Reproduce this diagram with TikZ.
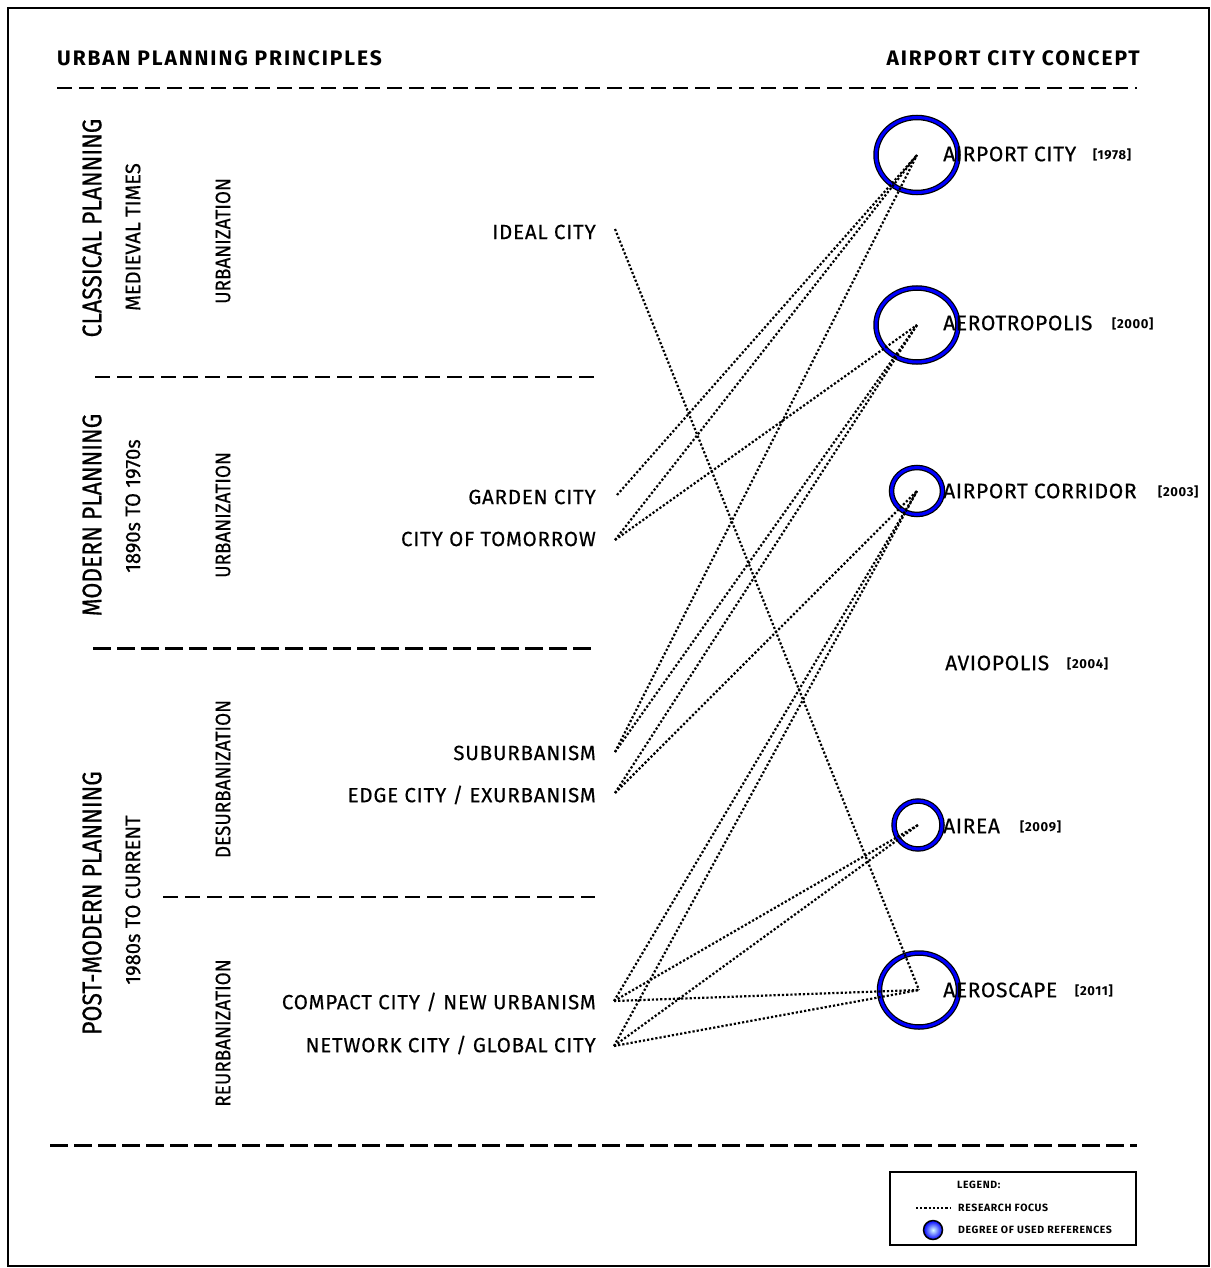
\documentclass[tikz,border=0pt]{standalone}
\usepackage{fontspec}
\setmainfont{Fira Sans}
\newfontfamily\itemfont[LetterSpace=4, FakeBold=0.4]{Fira Sans}
\newfontfamily\conceptfont[LetterSpace=3, FakeBold=0.4]{Fira Sans}
\newfontfamily\erafont[FakeStretch=0.85, FakeBold=0.5]{Fira Sans}
\newfontfamily\periodfont[FakeStretch=0.96, FakeBold=0.4]{Fira Sans}
\newfontfamily\phasefont[FakeStretch=0.9, FakeBold=0.3]{Fira Sans}
\newfontfamily\headfont[LetterSpace=9]{Fira Sans}
\newfontfamily\legfont[LetterSpace=6]{Fira Sans}
\newfontfamily\yearfont[LetterSpace=5]{Fira Sans}
\usetikzlibrary{shapes.geometric}
\begin{document}
\begin{tikzpicture}[x=1pt,y=-1pt,
  item/.style={anchor=east, font=\itemfont\fontsize{20.5}{24}\selectfont, inner sep=0pt},
  concept/.style={anchor=west, font=\conceptfont\fontsize{21}{25}\selectfont, inner sep=0pt},
  yearlbl/.style={anchor=west, font=\yearfont\bfseries\fontsize{13}{15}\selectfont, inner sep=0pt},
  header/.style={font=\headfont\bfseries\fontsize{21}{25}\selectfont, inner sep=0pt},
  era/.style={rotate=90, font=\erafont\fontsize{27}{30}\selectfont, inner sep=0pt},
  period/.style={rotate=90, font=\periodfont\fontsize{21}{24}\selectfont, inner sep=0pt},
  phase/.style={rotate=90, font=\phasefont\fontsize{21}{24}\selectfont, inner sep=0pt},
  septhin/.style={dash pattern=on 15pt off 7pt, line width=1.5pt},
  septhick/.style={dash pattern=on 18pt off 6pt, line width=3pt},
  link/.style={line width=2.2pt, dash pattern=on 2.2pt off 2pt, black},
  ring/.style={ellipse, draw=blue, line width=3pt, preaction={draw=black, line width=5.5pt}, inner sep=0pt, outer sep=0pt},
  legtext/.style={anchor=west, font=\legfont\bfseries\fontsize{10.5}{12}\selectfont, inner sep=0pt}
]
\useasboundingbox (0,0) rectangle (1210,1268);
% frame
\draw[line width=1.5pt] (8,8) rectangle (1209,1266);

% headers
\node[header, anchor=west] (h-left) at (57,58) {URBAN PLANNING PRINCIPLES};
\node[header, anchor=east] (h-right) at (1140,58) {AIRPORT CITY CONCEPT};

% separators
\draw[septhin] (57,88) -- (1137,88);
\draw[septhin] (95,377) -- (595,377);
\draw[septhick] (93,648) -- (595,648);
\draw[septhin] (163,897) -- (595,897);
\draw[septhick] (50,1145) -- (1137,1145);

% vertical labels
\node[era] (e1) at (92,228) {CLASSICAL PLANNING};
\node[era] (e2) at (92,515) {MODERN PLANNING};
\node[era] (e3) at (92,903) {POST-MODERN PLANNING};
\node[period] (p1) at (133,237) {MEDIEVAL TIMES};
\node[period] (p2) at (133,506) {1890s TO 1970s};
\node[period] (p3) at (133,900) {1980s TO CURRENT};
\node[phase] (f1) at (223,241) {URBANIZATION};
\node[phase] (f2) at (223,515) {URBANIZATION};
\node[phase] (f3) at (223,779) {DESURBANIZATION};
\node[phase] (f4) at (223,1033) {REURBANIZATION};

% left items
\node[item] (ideal) at (596,232) {IDEAL CITY};
\node[item] (garden) at (596,497) {GARDEN CITY};
\node[item] (tomorrow) at (596,539) {CITY OF TOMORROW};
\node[item] (suburb) at (596,753) {SUBURBANISM};
\node[item] (edge) at (596,795) {EDGE CITY / EXURBANISM};
\node[item] (compact) at (596,1002) {COMPACT CITY / NEW URBANISM};
\node[item] (network) at (596,1045) {NETWORK CITY / GLOBAL CITY};

% start points of the links
\coordinate (ideal-p) at (615,229);
\coordinate (garden-p) at (617,495);
\coordinate (tomorrow-p) at (615,540);
\coordinate (suburb-p) at (615,752);
\coordinate (edge-p) at (615,793);
\coordinate (compact-p) at (614,1001);
\coordinate (network-p) at (614,1046);

% rings
\node[ring, minimum width=82pt, minimum height=75pt] (acity) at (917,155) {};
\node[ring, minimum width=82pt, minimum height=74pt] (aero) at (917,325) {};
\node[ring, minimum width=51pt, minimum height=47pt] (corr) at (917,491) {};
\node[ring, minimum width=48pt, minimum height=48pt] (airea) at (918,825) {};
\node[ring, minimum width=79pt, minimum height=74pt] (ascape) at (919,990) {};

% concept labels
\node[concept] (l-acity) at (943,154) {AIRPORT CITY};
\node[yearlbl] (y-acity) at (1093,155) {[1978]};
\node[concept] (l-aero) at (943,323) {AEROTROPOLIS};
\node[yearlbl] (y-aero) at (1112,324) {[2000]};
\node[concept] (l-corr) at (943,491) {AIRPORT CORRIDOR};
\node[yearlbl] (y-corr) at (1158,492) {[2003]};
\node[concept] (l-avio) at (945,663) {AVIOPOLIS};
\node[yearlbl] (y-avio) at (1067,664) {[2004]};
\node[concept] (l-airea) at (943,826) {AIREA};
\node[yearlbl] (y-airea) at (1020,827) {[2009]};
\node[concept] (l-ascape) at (943,990) {AEROSCAPE};
\node[yearlbl] (y-ascape) at (1075,991) {[2011]};

% links
\draw[link] (ideal-p) -- (ascape.center);
\draw[link] (garden-p) -- (acity.center);
\draw[link] (tomorrow-p) -- (acity.center);
\draw[link] (tomorrow-p) -- (aero.center);
\draw[link] (suburb-p) -- (acity.center);
\draw[link] (suburb-p) -- (aero.center);
\draw[link] (edge-p) -- (aero.center);
\draw[link] (edge-p) -- (corr.center);
\draw[link] (compact-p) -- (corr.center);
\draw[link] (compact-p) -- (airea.center);
\draw[link] (compact-p) -- (ascape.center);
\draw[link] (network-p) -- (corr.center);
\draw[link] (network-p) -- (airea.center);
\draw[link] (network-p) -- (ascape.center);

% legend
\node[draw, line width=1.8pt, minimum width=246pt, minimum height=73pt, inner sep=0pt] (legend) at (1013,1208.5) {};
\node[legtext] (leg-title) at (957,1185) {LEGEND:};
\coordinate (leg-a) at (916,1208);
\coordinate (leg-b) at (951,1208);
\draw[link, line width=1.8pt] (leg-a) -- (leg-b);
\node[legtext] (leg-focus) at (958,1208) {RESEARCH FOCUS};
\node[circle, minimum size=19pt, inner sep=0pt, inner color=cyan!15, outer color=blue, draw=black, line width=1.5pt] (leg-ring) at (933,1230) {};
\node[legtext] (leg-deg) at (958,1230) {DEGREE OF USED REFERENCES};
\end{tikzpicture}
\end{document}
